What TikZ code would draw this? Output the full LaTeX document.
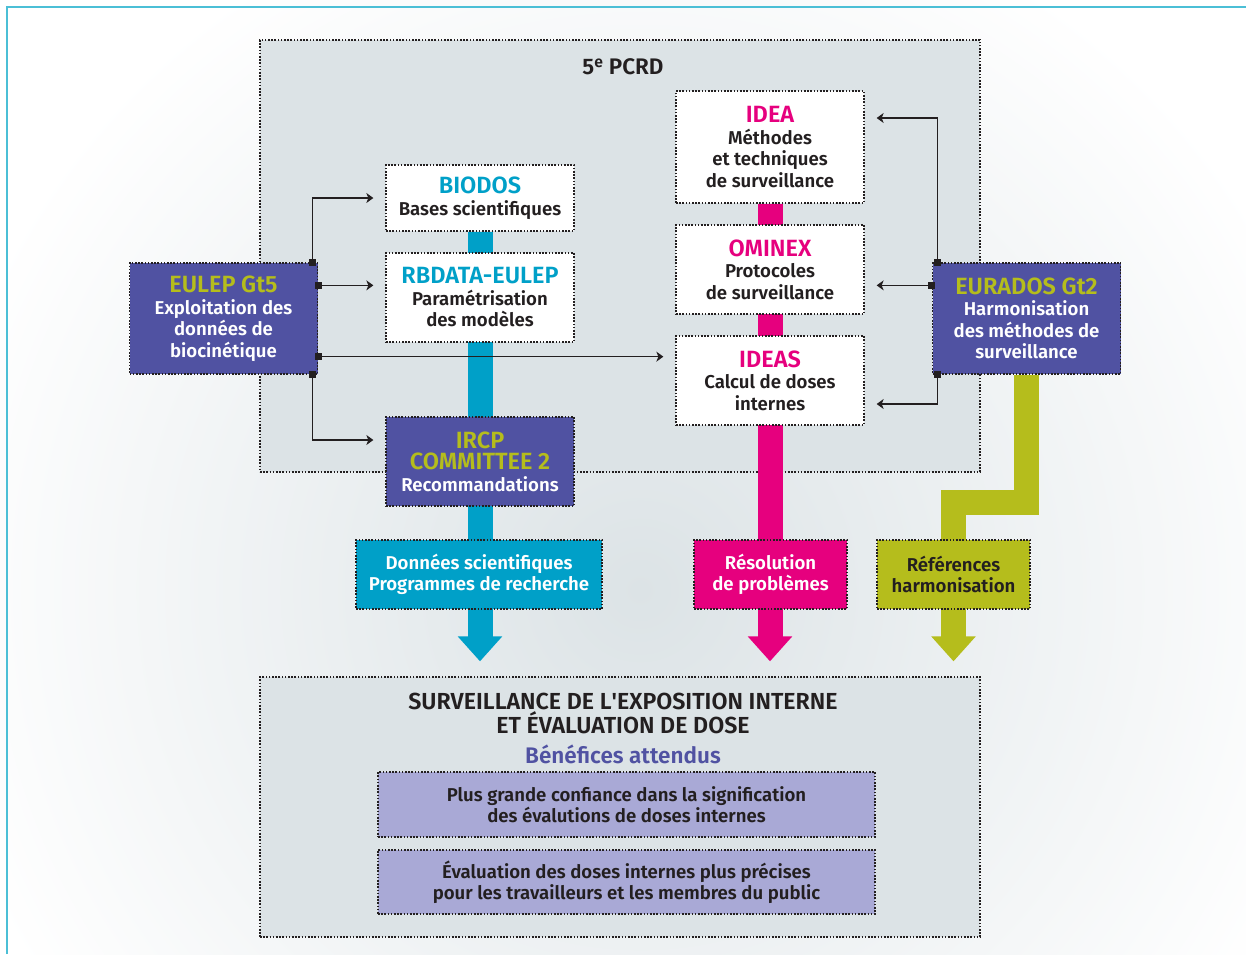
\documentclass[tikz,border=0pt]{standalone}
\usepackage{fontspec}
\setmainfont{Fira Sans}[UprightFont={* SemiBold},BoldFont={* Bold}]
\usetikzlibrary{arrows.meta,calc}

\definecolor{pcrdgray}{HTML}{DCE3E6}
\definecolor{deepblue}{HTML}{5052A2}
\definecolor{olivec}{HTML}{B5BD1C}
\definecolor{cyanc}{HTML}{00A0C8}
\definecolor{magc}{HTML}{E6007E}
\definecolor{lilac}{HTML}{A9A9D6}
\definecolor{ink}{HTML}{231F20}
\definecolor{framec}{HTML}{4BBFD6}

\newcommand\bodyfs{\fontsize{18.6}{21.5}\selectfont}
\newcommand\ttlfs{\fontsize{23.5}{21.5}\selectfont}
\newcommand\straightquote{{\addfontfeatures{Ligatures=TeXOff}'}}

\pgfdeclarelayer{bglayer}
\pgfdeclarelayer{barlayer}
\pgfsetlayers{bglayer,barlayer,main}

\tikzset{
  box/.style={draw=ink, dash pattern=on 1.6pt off 1.6pt, line width=1.3pt,
    inner sep=0pt, align=center, font=\bodyfs, text=ink},
  whitebox/.style={box, fill=white, minimum width=188pt},
  bluebox/.style={box, fill=deepblue, text=white, minimum width=188pt},
  outbox/.style={box, minimum height=69pt, text=white},
  bar/.style={line width=25pt, shorten >=15pt,
    -{Triangle[width=43pt,length=25pt]}},
  conn/.style={draw=ink, line width=1.4pt, shorten >=12pt,
    -{Stealth[length=7pt,width=10pt,inset=2pt]}},
  sq/.style={fill=ink, draw=none, minimum size=7pt, inner sep=0pt},
}

\begin{document}
\begin{tikzpicture}[x=1pt,y=-1pt]
\useasboundingbox (0,0) rectangle (1246,954);

% soft glow behind the diagram
\begin{pgfonlayer}{bglayer}
  \begin{scope}
    \clip (0,0) rectangle (1246,954);
    \shade[inner color=pcrdgray, outer color=white] (640,590) circle (720);
  \end{scope}
  \draw[framec, line width=1.5pt] (7,954) -- (7,7) -- (1246,7);
  \node[box, fill=pcrdgray, minimum width=720pt, minimum height=432pt] (pcrd) at (620,256) {};
  \node[box, fill=pcrdgray, minimum width=720pt, minimum height=260pt] (bottom) at (620,807) {};
\end{pgfonlayer}

\node[font=\fontsize{22.5}{22}\selectfont, text=ink] (pcrdtitle) at (623,67) {5\textsuperscript{e} PCRD};

% left column
\node[whitebox, minimum height=66pt] (biodos) at (480,198)
  {{\ttlfs\color{cyanc}BIODOS}\\Bases scientifiques};
\node[whitebox, minimum height=89pt] (rbdata) at (480,297.5)
  {{\ttlfs\color{cyanc}RBDATA-EULEP}\\Paramétrisation\\des modèles};
\node[bluebox, minimum height=89pt] (ircp) at (480,461.5)
  {{\ttlfs\color{olivec}IRCP}\\{\ttlfs\color{olivec}COMMITTEE 2}\\Recommandations};

% middle column
\node[whitebox, minimum height=112pt] (idea) at (770,147)
  {{\ttlfs\color{magc}IDEA}\\Méthodes\\et techniques\\de surveillance};
\node[whitebox, minimum height=89pt] (ominex) at (770,269.5)
  {{\ttlfs\color{magc}OMINEX}\\Protocoles\\de surveillance};
\node[whitebox, minimum height=89pt] (ideas) at (770,380.5)
  {{\ttlfs\color{magc}IDEAS}\\Calcul de doses\\internes};

% working groups
\node[bluebox, minimum height=111pt] (eulep) at (223.5,318.5)
  {{\ttlfs\color{olivec}EULEP Gt5}\\Exploitation des\\données de\\biocinétique};
\node[bluebox, minimum height=111pt] (eurados) at (1026.5,318.5)
  {{\ttlfs\color{olivec}EURADOS Gt2}\\Harmonisation\\des méthodes de\\surveillance};

% outputs
\node[outbox, fill=cyanc, minimum width=246pt] (donnees) at (479,574.5)
  {Données scientifiques\\Programmes de recherche};
\node[outbox, fill=magc, minimum width=153pt] (resol) at (770.5,574.5)
  {Résolution\\de problèmes};
\node[outbox, fill=olivec, minimum width=153pt, text=ink] (refs) at (953.5,574.5)
  {Références\\harmonisation};

% flows
\begin{pgfonlayer}{barlayer}
  \draw[bar, cyanc] (biodos.south) -- (biodos.south |- bottom.north);
  \draw[bar, magc] (idea.south) -- (idea.south |- bottom.north);
  \draw[bar, olivec, line join=miter] (eurados.south) -- ++(0,128) -| (refs.south |- bottom.north);
\end{pgfonlayer}

% expected benefits
\node[font=\fontsize{23.2}{21}\selectfont, text=ink, align=center] (goal) at (623,713.5)
  {SURVEILLANCE DE L\straightquote EXPOSITION INTERNE\\ET ÉVALUATION DE DOSE};
\node[font=\fontsize{22.5}{22}\selectfont, text=deepblue] (benef) at (623,754) {Bénéfices attendus};
\node[box, fill=lilac, minimum width=497pt, minimum height=65pt] (ben1) at (626.5,804.5)
  {Plus grande confiance dans la signification\\des évalutions de doses internes};
\node[box, fill=lilac, minimum width=497pt, minimum height=64pt] (ben2) at (626.5,882)
  {Évaluation des doses internes plus précises\\pour les travailleurs et les membres du public};

% EULEP links
\node[sq] (s1) at ($(eulep.north east)+(-5.5,0)$) {};
\node[sq] (s2) at ($(eulep.north east)+(0,23)$) {};
\node[sq] (s3) at ($(eulep.south east)+(0,-18)$) {};
\node[sq] (s4) at ($(eulep.south east)+(-5.5,0)$) {};
\draw[conn] (s1.center) |- (biodos.west);
\draw[conn] (s2.center) -- (s2.center -| rbdata.west);
\draw[conn] (s3.center) -- (s3.center -| ideas.west);
\draw[conn] (s4.center) |- ($(ircp.west)+(0,-21.5)$);

% EURADOS links
\node[sq] (t1) at ($(eurados.north west)+(5.5,0)$) {};
\node[sq] (t2) at ($(eurados.north west)+(0,23)$) {};
\node[sq] (t3) at ($(eurados.south west)+(5.5,0)$) {};
\draw[conn] (t1.center) |- ($(idea.east)+(0,-29)$);
\draw[conn] (t2.center) -- (t2.center -| ominex.east);
\draw[conn] (t3.center) |- ($(ideas.east)+(0,23.5)$);
\foreach \s in {s1,s2,s3,s4,t1,t2,t3} \node[sq] at (\s) {};
\end{tikzpicture}
\end{document}
